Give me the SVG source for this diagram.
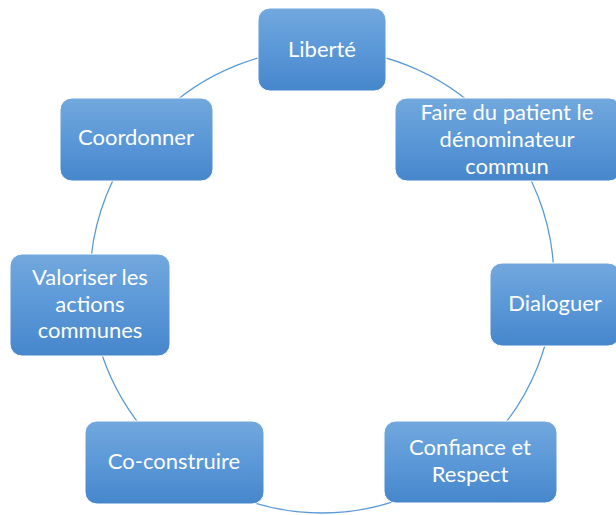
<svg xmlns="http://www.w3.org/2000/svg" width="616" height="515" viewBox="0 0 616 515">
<defs>
<linearGradient id="g" x1="0" y1="0" x2="0" y2="1">
<stop offset="0" stop-color="#72a8dd"/>
<stop offset="0.5" stop-color="#5b98d8"/>
<stop offset="1" stop-color="#4686cb"/>
</linearGradient>
</defs>
<style>
.box{fill:url(#g);stroke:#ffffff;stroke-width:1}
.t{font-family:Lato,"Open Sans","Liberation Sans",sans-serif;font-size:22px;fill:#ffffff;text-anchor:middle}
.c{fill:none;stroke:#5b9bd5;stroke-width:1.3}
</style>
<rect width="616" height="515" fill="#ffffff"/>
<g id="connectors">
<circle class="c" cx="322" cy="281" r="232"/>
</g>
<g id="n1"><rect class="box" x="258" y="8" width="128" height="83" rx="12"/><text class="t" x="322" y="57">Liberté</text></g>
<g id="n2"><rect class="box" x="395" y="98" width="226" height="83" rx="12"/><text class="t" x="507" y="120">Faire du patient le</text><text class="t" x="507" y="147">dénominateur</text><text class="t" x="507" y="174">commun</text></g>
<g id="n3"><rect class="box" x="490" y="263" width="130" height="83" rx="12"/><text class="t" x="555" y="311">Dialoguer</text></g>
<g id="n4"><rect class="box" x="384" y="421" width="173" height="82" rx="12"/><text class="t" x="470" y="455">Confiance et</text><text class="t" x="470" y="482">Respect</text></g>
<g id="n5"><rect class="box" x="85" y="421" width="179" height="83" rx="12"/><text class="t" x="174" y="469">Co-construire</text></g>
<g id="n6"><rect class="box" x="10" y="254" width="160" height="102" rx="12"/><text class="t" x="90" y="285">Valoriser les</text><text class="t" x="90" y="312">actions</text><text class="t" x="90" y="338">communes</text></g>
<g id="n7"><rect class="box" x="60" y="98" width="153" height="83" rx="12"/><text class="t" x="136" y="145">Coordonner</text></g>
</svg>
